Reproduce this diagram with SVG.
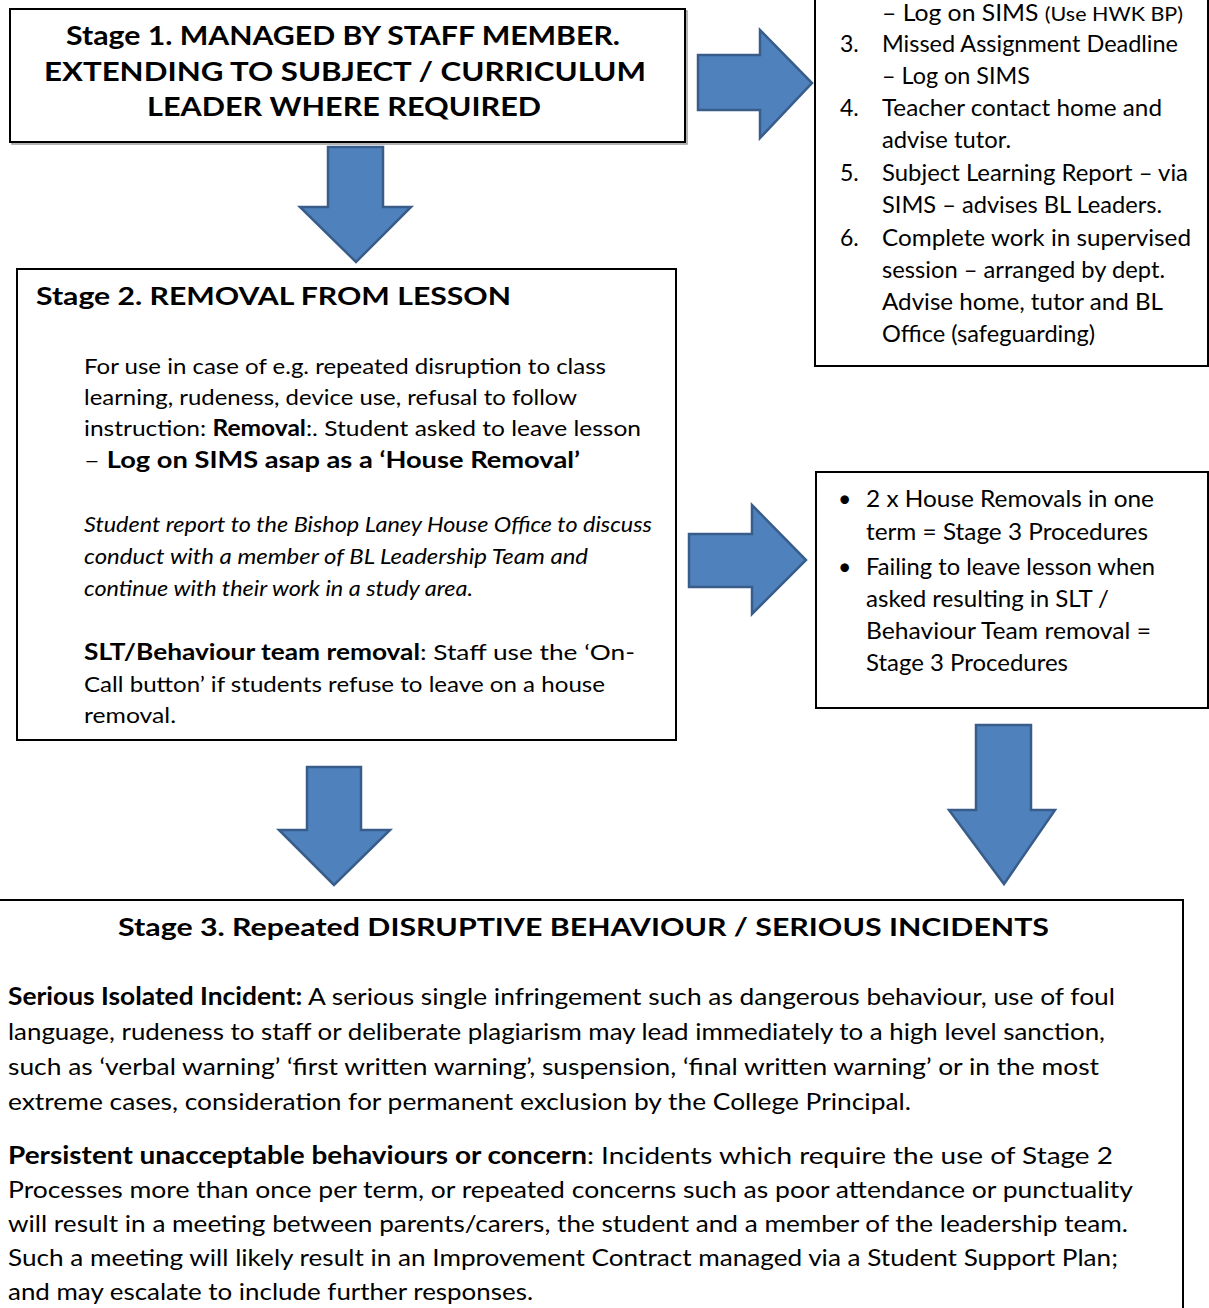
<svg xmlns="http://www.w3.org/2000/svg" width="1209" height="1308" viewBox="0 0 1209 1308">
<style>
.box{fill:#fff;stroke:#000;stroke-width:2}
.shadow{fill:none;stroke:#9a9a9a;stroke-width:1.5}
.arrow{fill:#4F81BD;stroke:#385D8A;stroke-width:2.5;stroke-linejoin:miter}
text{font-family:Lato,"Open Sans","Liberation Sans",sans-serif;fill:#000}
.h1{font-size:27px;font-weight:bold}
.h2{font-size:25px;font-weight:bold}
.t{font-size:22px}
.r{font-size:23px}
.p{font-size:24px}
.b{font-weight:bold}
.i{font-style:italic}
</style>
<g id="connectors">
<path class="arrow" d="M328,147 H383 V207 H411 L356,262 L300,207 H328 Z"/>
<path class="arrow" d="M698,55 H760 V30 L812,83 L760,138 V110 H698 Z"/>
<path class="arrow" d="M689,534 H752 V505 L806,560 L752,614 V587 H689 Z"/>
<path class="arrow" d="M307,767 H361 V830 H390 L334,885 L279,830 H307 Z"/>
<path class="arrow" d="M976,725 H1031 V810 H1055 L1004,884 L949,810 H976 Z"/>
</g>
<g id="stage1">
<rect class="shadow" x="12" y="11" width="675" height="133"/>
<rect class="box" x="10" y="9" width="675" height="133"/>
<text class="h1" x="66" y="45" textLength="554" lengthAdjust="spacingAndGlyphs">Stage 1. MANAGED BY STAFF MEMBER.</text>
<text class="h1" x="44" y="81" textLength="602" lengthAdjust="spacingAndGlyphs">EXTENDING TO SUBJECT  / CURRICULUM</text>
<text class="h1" x="147" y="116" textLength="394" lengthAdjust="spacingAndGlyphs">LEADER WHERE REQUIRED</text>
</g>
<g id="stage1-actions">
<rect class="box" x="815" y="-10" width="393" height="376"/>
<text class="r" x="882" y="21" textLength="301" lengthAdjust="spacingAndGlyphs">– Log on SIMS <tspan font-size="20">(Use HWK BP)</tspan></text>
<text class="r" x="840" y="52">3.</text>
<text class="r" x="882" y="52" textLength="296" lengthAdjust="spacingAndGlyphs">Missed Assignment Deadline</text>
<text class="r" x="882" y="84" textLength="148" lengthAdjust="spacingAndGlyphs">– Log on SIMS</text>
<text class="r" x="840" y="116">4.</text>
<text class="r" x="882" y="116" textLength="280" lengthAdjust="spacingAndGlyphs">Teacher contact home and</text>
<text class="r" x="882" y="148" textLength="129" lengthAdjust="spacingAndGlyphs">advise tutor.</text>
<text class="r" x="840" y="181">5.</text>
<text class="r" x="882" y="181" textLength="306" lengthAdjust="spacingAndGlyphs">Subject Learning Report – via</text>
<text class="r" x="882" y="213" textLength="280" lengthAdjust="spacingAndGlyphs">SIMS – advises BL Leaders.</text>
<text class="r" x="840" y="246">6.</text>
<text class="r" x="882" y="246" textLength="309" lengthAdjust="spacingAndGlyphs">Complete work in supervised</text>
<text class="r" x="882" y="278" textLength="283" lengthAdjust="spacingAndGlyphs">session – arranged by dept.</text>
<text class="r" x="882" y="310" textLength="281" lengthAdjust="spacingAndGlyphs">Advise home, tutor and BL</text>
<text class="r" x="882" y="342" textLength="213" lengthAdjust="spacingAndGlyphs">Office (safeguarding)</text>
</g>
<g id="stage2">
<rect class="box" x="17" y="269" width="659" height="471"/>
<text class="h2" x="36" y="305" textLength="475" lengthAdjust="spacingAndGlyphs">Stage 2. REMOVAL FROM LESSON</text>
<text class="t" x="84" y="374" textLength="522" lengthAdjust="spacingAndGlyphs">For use in case of e.g. repeated disruption to class</text>
<text class="t" x="84" y="405" textLength="493" lengthAdjust="spacingAndGlyphs">learning, rudeness, device use, refusal to follow</text>
<text class="t" x="84" y="436" textLength="557" lengthAdjust="spacingAndGlyphs">instruction: <tspan class="b">Removal</tspan>:. Student asked to leave lesson</text>
<text class="t" x="84" y="468" textLength="496" lengthAdjust="spacingAndGlyphs">– <tspan class="b">Log on SIMS asap as a ‘House Removal’</tspan></text>
<text class="t i" x="84" y="532" textLength="568" lengthAdjust="spacingAndGlyphs">Student report to the Bishop Laney House Office to discuss</text>
<text class="t i" x="84" y="564" textLength="504" lengthAdjust="spacingAndGlyphs">conduct with a member of BL Leadership Team and</text>
<text class="t i" x="84" y="596" textLength="389" lengthAdjust="spacingAndGlyphs">continue with their work in a study area.</text>
<text class="t" x="84" y="660" textLength="551" lengthAdjust="spacingAndGlyphs"><tspan class="b">SLT/Behaviour team removal</tspan>: Staff use the ‘On-</text>
<text class="t" x="84" y="692" textLength="521" lengthAdjust="spacingAndGlyphs">Call button’ if students refuse to leave on a house</text>
<text class="t" x="84" y="723" textLength="92" lengthAdjust="spacingAndGlyphs">removal.</text>
</g>
<g id="stage2-escalation">
<rect class="box" x="816" y="472" width="392" height="236"/>
<text class="r" x="838" y="507">•</text>
<text class="r" x="866" y="507" textLength="288" lengthAdjust="spacingAndGlyphs">2 x House Removals in one</text>
<text class="r" x="866" y="540" textLength="282" lengthAdjust="spacingAndGlyphs">term = Stage 3 Procedures</text>
<text class="r" x="838" y="575">•</text>
<text class="r" x="866" y="575" textLength="289" lengthAdjust="spacingAndGlyphs">Failing to leave lesson when</text>
<text class="r" x="866" y="607" textLength="243" lengthAdjust="spacingAndGlyphs">asked resulting in SLT /</text>
<text class="r" x="866" y="639" textLength="285" lengthAdjust="spacingAndGlyphs">Behaviour Team removal =</text>
<text class="r" x="866" y="671" textLength="202" lengthAdjust="spacingAndGlyphs">Stage 3 Procedures</text>
</g>
<g id="stage3">
<rect class="box" x="-5" y="900" width="1188" height="420"/>
<text class="h2" x="118" y="936" textLength="931" lengthAdjust="spacingAndGlyphs">Stage 3. Repeated DISRUPTIVE BEHAVIOUR / SERIOUS INCIDENTS</text>
<text class="p" x="8" y="1005" textLength="1107" lengthAdjust="spacingAndGlyphs"><tspan class="b">Serious Isolated Incident:</tspan> A serious single infringement such as dangerous behaviour, use of foul</text>
<text class="p" x="8" y="1040" textLength="1097" lengthAdjust="spacingAndGlyphs">language, rudeness to staff or deliberate plagiarism may lead immediately to a high level sanction,</text>
<text class="p" x="8" y="1075" textLength="1091" lengthAdjust="spacingAndGlyphs">such as ‘verbal warning’ ‘first written warning’, suspension, ‘final written warning’ or in the most</text>
<text class="p" x="8" y="1110" textLength="903" lengthAdjust="spacingAndGlyphs">extreme cases, consideration for permanent exclusion by the College Principal.</text>
<text class="p" x="8" y="1164" textLength="1105" lengthAdjust="spacingAndGlyphs"><tspan class="b">Persistent unacceptable behaviours or concern</tspan>: Incidents which require the use of Stage 2</text>
<text class="p" x="8" y="1198" textLength="1125" lengthAdjust="spacingAndGlyphs">Processes more than once per term, or repeated concerns such as poor attendance or punctuality</text>
<text class="p" x="8" y="1232" textLength="1120" lengthAdjust="spacingAndGlyphs">will result in a meeting between parents/carers, the student and a member of the leadership team.</text>
<text class="p" x="8" y="1266" textLength="1110" lengthAdjust="spacingAndGlyphs">Such a meeting will likely result in an Improvement Contract managed via a Student Support Plan;</text>
<text class="p" x="8" y="1300" textLength="525" lengthAdjust="spacingAndGlyphs">and may escalate to include further responses.</text>
</g>
</svg>
